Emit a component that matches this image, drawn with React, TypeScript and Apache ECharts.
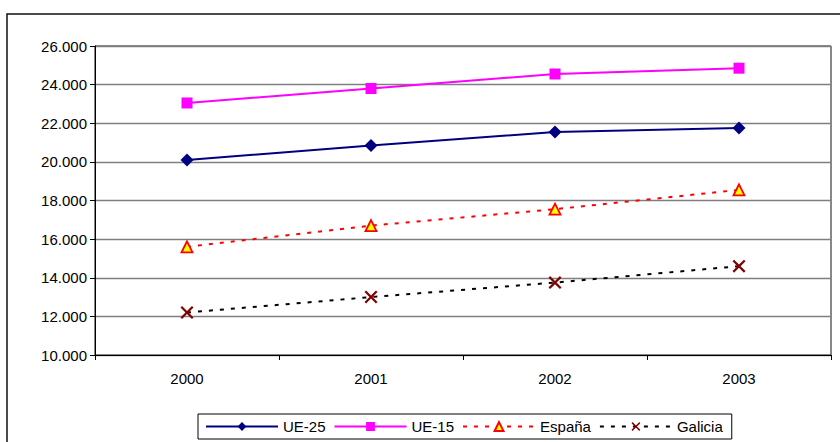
import React, { useEffect, useRef } from "react";
import * as echarts from "echarts";

const categories = ["2000", "2001", "2002", "2003"];
const ue25 = [20100, 20850, 21550, 21750];
const ue15 = [23050, 23800, 24550, 24850];
const espana = [15600, 16700, 17550, 18550];
const galicia = [12200, 13000, 13750, 14600];
const seriesNames = ["UE-25", "UE-15", "España", "Galicia"];

const FONT = "Liberation Sans";
const X_PATH =
  "path://M0,1.2 L1.2,0 L5,3.8 L8.8,0 L10,1.2 L6.2,5 L10,8.8 L8.8,10 L5,6.2 L1.2,10 L0,8.8 L3.8,5 Z";

export default function App() {
  const ref = useRef<HTMLDivElement>(null);
  useEffect(() => {
    if (!ref.current) return;
    const chart = echarts.init(ref.current, undefined, { renderer: "svg" });
    chart.setOption({
      animation: false,
      backgroundColor: "#ffffff",
      textStyle: { fontFamily: FONT },
      graphic: [
        {
          type: "rect",
          shape: { x: 7, y: 14, width: 840, height: 440 },
          style: { fill: "none", stroke: "#111", lineWidth: 1.5 },
          silent: true,
        },
      ],
      grid: {
        left: 95,
        right: 9,
        top: 46,
        bottom: 87,
        show: true,
        borderColor: "#111",
        borderWidth: 1,
        backgroundColor: "transparent",
      },
      legend: {
        data: seriesNames,
        left: 198,
        top: 414,
        orient: "horizontal",
        itemWidth: 72,
        itemHeight: 11,
        itemGap: 8,
        itemTextGap: 5,
        padding: [5, 9, 5, 7],
        borderColor: "#000",
        borderWidth: 1,
        borderRadius: 0,
        textStyle: { fontFamily: FONT, fontSize: 15, color: "#000" },
      },
      xAxis: {
        type: "category",
        data: categories,
        boundaryGap: true,
        axisLine: { show: true, lineStyle: { color: "#000", width: 1 } },
        axisTick: { show: true, length: 5, lineStyle: { color: "#000" } },
        axisLabel: { fontFamily: FONT, fontSize: 15, color: "#000", margin: 16 },
        splitLine: { show: false },
      },
      yAxis: {
        type: "value",
        min: 10000,
        max: 26000,
        interval: 2000,
        axisLine: { show: true, lineStyle: { color: "#000", width: 1 } },
        axisTick: { show: true, length: 5, lineStyle: { color: "#000" } },
        axisLabel: {
          fontFamily: FONT,
          fontSize: 15,
          color: "#000",
          margin: 8,
          formatter: (v: number) => `${Math.round(v / 1000)}.000`,
        },
        splitLine: { show: true, lineStyle: { color: "#7f7f7f", width: 1.3 } },
      },
      series: [
        {
          name: seriesNames[0],
          type: "line",
          data: ue25,
          symbol: "diamond",
          symbolSize: 13,
          lineStyle: { color: "#000080", width: 2 },
          itemStyle: { color: "#000080" },
        },
        {
          name: seriesNames[1],
          type: "line",
          data: ue15,
          symbol: "rect",
          symbolSize: 11,
          lineStyle: { color: "#ff00ff", width: 2 },
          itemStyle: { color: "#ff00ff" },
        },
        {
          name: seriesNames[2],
          type: "line",
          data: espana,
          symbol: "triangle",
          symbolSize: 11,
          lineStyle: { color: "#ff0000", width: 2, type: [4, 7] },
          itemStyle: { color: "#ffff00", borderColor: "#ff0000", borderWidth: 1.8 },
        },
        {
          name: seriesNames[3],
          type: "line",
          data: galicia,
          symbol: X_PATH,
          symbolSize: 13,
          lineStyle: { color: "#000000", width: 2, type: [4, 7] },
          itemStyle: { color: "#800000" },
        },
      ],
    });
    return () => chart.dispose();
  }, []);
  return (
    <div
      ref={ref}
      style={{ position: "fixed", left: 0, top: 0, width: 840, height: 442, background: "#fff" }}
    />
  );
}
